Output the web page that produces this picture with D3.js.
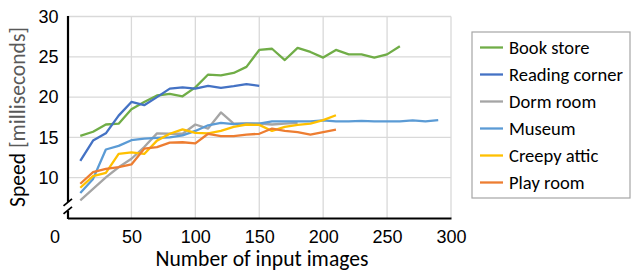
<!DOCTYPE html>
<html><head><meta charset="utf-8">
<script src="https://cdn.jsdelivr.net/npm/d3@7"></script>
<style>
html,body{margin:0;padding:0;background:#fff;}
svg{display:block;font-family:Carlito,Calibri,Lato,"Open Sans",sans-serif;}
</style></head>
<body><svg id="c" width="631" height="271"></svg>
<script>
// ---- data ----
const inputImages = [10,20,30,40,50,60,70,80,90,100,110,120,130,140,150,160,170,180,190,200,210,220,230,240,250,260,270,280,290];
const seriesNames = ["Book store","Reading corner","Dorm room","Museum","Creepy attic","Play room"];
const seriesColors = ["#70AD47","#4472C4","#A5A5A5","#5B9BD5","#FFC000","#ED7D31"];
const bookStore = [15.2,15.7,16.6,16.7,18.5,19.4,20.2,20.4,20.1,21.2,22.8,22.7,23.0,23.75,25.85,26.0,24.6,26.1,25.6,24.9,25.85,25.3,25.3,24.9,25.3,26.3];
const readingCorner = [12.1,14.6,15.5,17.7,19.4,19.0,20.0,21.05,21.2,21.05,21.4,21.15,21.35,21.6,21.4];
const dormRoom = [7.2,8.6,10.05,11.3,12.35,13.8,15.5,15.45,15.45,16.6,16.1,18.1,16.7,16.75,16.7,16.6,16.7,16.8];
const museum = [8.1,9.85,13.5,13.95,14.65,14.85,14.95,15.0,15.25,15.8,16.5,16.8,16.65,16.7,16.7,17.0,17.0,17.0,17.0,17.1,17.0,17.0,17.05,17.0,17.0,17.0,17.1,17.0,17.15];
const creepyAttic = [8.75,10.2,10.6,12.95,13.15,12.95,14.6,15.45,16.0,15.55,15.5,15.8,16.3,16.6,16.55,15.8,16.3,16.55,16.7,17.15,17.75];
const playRoom = [9.25,10.7,11.1,11.3,11.65,13.6,13.8,14.35,14.4,14.25,15.45,15.15,15.15,15.35,15.45,16.1,15.8,15.65,15.35,15.65,15.95];
const xTicks = [0,50,100,150,200,250,300];
const yTicks = [10,15,20,25,30];
const xTitle = "Number of input images";
const yTitleMain = "Speed";
const yTitleUnit = "[milliseconds]";

const allSeries = [bookStore,readingCorner,dormRoom,museum,creepyAttic,playRoom];

// ---- layout ----
const svg = d3.select("#c");
const L = 67.5, R = 451, T = 16.5, B = 218;
const x = d3.scaleLinear().domain([0,300]).range([L,R]);
const y = d3.scaleLinear().domain([5,30]).range([B,T]);

function fit(sel, w){
  sel.each(function(){
    const el = this; const fs = parseFloat(el.getAttribute("font-size"));
    const cur = el.getComputedTextLength();
    if(cur>0) el.setAttribute("font-size", (fs*w/cur).toFixed(2));
  });
}

// gridlines
const grid = svg.append("g").attr("stroke","#D9D9D9").attr("stroke-width",1.3);
grid.selectAll("line.v").data(xTicks.filter(d=>d>0)).join("line")
  .attr("x1",d=>x(d)).attr("x2",d=>x(d)).attr("y1",T).attr("y2",B);
grid.selectAll("line.h").data(yTicks).join("line")
  .attr("x1",L).attr("x2",R).attr("y1",d=>y(d)).attr("y2",d=>y(d));

// axes via d3
const xAxis = svg.append("g").attr("transform",`translate(0,${B})`)
  .call(d3.axisBottom(x).tickValues(xTicks).tickSize(0).tickPadding(12));
xAxis.select(".domain").attr("stroke","#000").attr("stroke-width",2.2);
xAxis.selectAll("text").attr("font-size",18).attr("fill","#000")
  .attr("font-family",null).attr("dy","0.71em");
xAxis.selectAll(".tick").filter(d=>d===0).select("text").attr("dx",-13);

const yAxis = svg.append("g").attr("transform",`translate(${L},0)`)
  .call(d3.axisLeft(y).tickValues(yTicks).tickSize(0).tickPadding(9));
yAxis.select(".domain").remove();
yAxis.selectAll("text").attr("font-size",18).attr("fill","#000").attr("font-family",null);
svg.selectAll(".tick text").attr("font-family",null);

// y axis line with break
const ax = svg.append("g").attr("stroke","#000").attr("stroke-width",2.2).attr("fill","none");
ax.append("line").attr("x1",L+0.5).attr("x2",L+0.5).attr("y1",T-0.5).attr("y2",y(6.5)-4);
ax.append("line").attr("x1",L+0.5).attr("x2",L+0.5).attr("y1",y(6.5)+5).attr("y2",B+1);
const yb = y(6.5);
ax.append("line").attr("x1",L-4).attr("y1",yb+0).attr("x2",L+4.5).attr("y2",yb-7).attr("stroke-width",1.8);
ax.append("line").attr("x1",L-4).attr("y1",yb+8).attr("x2",L+4.5).attr("y2",yb+1).attr("stroke-width",1.8);

// series
const line = d3.line().x((d,i)=>x(inputImages[i])).y(d=>y(d));
svg.append("g").selectAll("path").data(allSeries).join("path")
  .attr("d",d=>line(d)).attr("fill","none")
  .attr("stroke",(d,i)=>seriesColors[i]).attr("stroke-width",2.3)
  .attr("stroke-linejoin","round");

// axis titles
const xt = svg.append("text").attr("x",262).attr("y",266).attr("text-anchor","middle")
  .attr("font-size",20).attr("fill","#000").text(xTitle);
fit(xt,213);
const yt = svg.append("text").attr("transform","translate(25,117) rotate(-90)")
  .attr("text-anchor","middle").attr("font-size",20);
yt.append("tspan").attr("fill","#000").text(yTitleMain+" ");
yt.append("tspan").attr("fill","#595959").text(yTitleUnit);
fit(yt,180);

// legend
const lg = svg.append("g");
lg.append("rect").attr("x",472).attr("y",32).attr("width",158).attr("height",166)
  .attr("fill","#fff").attr("stroke","#A6A6A6").attr("stroke-width",1.2);
const rows = lg.selectAll("g.r").data(seriesNames).join("g")
  .attr("transform",(d,i)=>`translate(0,${47.5+i*27})`);
rows.append("line").attr("x1",480).attr("x2",503).attr("y1",0).attr("y2",0)
  .attr("stroke",(d,i)=>seriesColors[i]).attr("stroke-width",2.3);
const lt = rows.append("text").attr("x",509).attr("y",0).attr("dy","0.35em")
  .attr("font-size",18).attr("fill","#000").text(d=>d);
// scale legend font to match "Reading corner" width
const rc = lt.filter(d=>d==="Reading corner").node();
const k = 114/rc.getComputedTextLength();
lt.attr("font-size",(18*k).toFixed(2));
</script></body></html>
